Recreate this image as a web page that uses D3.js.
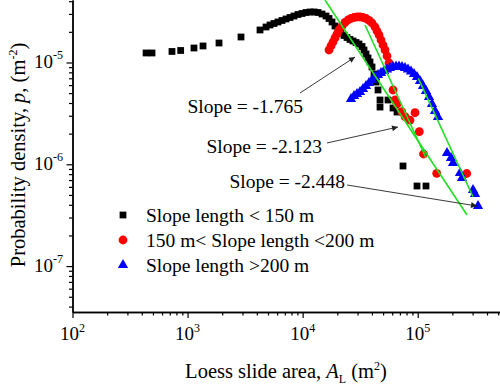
<!DOCTYPE html>
<html>
<head>
<meta charset="utf-8">
<script src="https://cdn.jsdelivr.net/npm/d3@7"></script>
<style>
body{margin:0;background:#fff;}
text{font-family:"Liberation Serif","Times New Roman",serif;fill:#000;}
</style>
</head>
<body>
<script>
// data: [slide area (m^2), probability density (x1e-6 m^-2)]
var blackPts = [[436,12.40],[491,12.40],[732,12.83],[871,13.12],[1137,13.88],[1362,14.53],[1876,15.54],[2913,17.80],[4261,20.86],
	[4805,22.32],[5204,23.36],[5638,24.16],[6107,25.00],[6616,25.86],[7167,26.75],[7765,27.67],[8413,28.62],[9115,29.61],[9872,30.29],
	[10700,30.99],[11590,31.34],[12560,31.34],[13600,30.99],[14730,29.95],[15960,28.62],[16950,27.05],[18000,25.00],[19110,22.83],
	[20300,20.86],[21550,19.49],[22880,18.42],[24300,17.60],[25800,16.82],[27400,16.26],[29090,15.72],[30890,15.19],[32800,14.36],
	[34140,13.27],[35540,12.12],[36990,11.07],[38500,10.11],[40070,9.03],[41710,7.71],[43410,6.43],[45190,5.37],[47030,4.28],
	[47030,3.65],[55200,4.28],[61010,3.57],[66100,3.26],[74490,0.962],[98600,0.612],[118000,0.612]];
var redPts = [[16950,13.27],[17640,14.53],[18360,15.90],[19110,17.41],[19890,19.05],[20700,20.86],[21980,22.83],[23340,24.72],
	[24790,26.15],[26320,27.05],[27950,27.67],[29680,27.99],[31510,27.99],[33460,27.67],[35540,27.05],[37740,25.86],[40070,24.43],
	[42560,22.32],[44290,20.39],[46090,18.63],[47970,16.63],[49930,14.85],[51970,13.27],[54090,11.58],[56290,9.89],
	[61010,5.37],[63490,4.28],[66100,3.91],[72580,3.29],[77520,2.94],[85700,2.72],[94720,3.21],[103200,2.09],[112300,1.262],
	[146200,0.816],[266600,0.812]];
var bluePts = [[26320,4.38],[27950,4.69],[29680,4.90],[31510,5.13],[33460,5.49],[35540,5.88],[37740,6.29],[40070,6.73],[42560,7.20],
	[45190,7.54],[47970,7.89],[50940,8.25],[54090,8.54],[57440,8.83],[61010,9.03],[64780,9.14],[68790,9.14],[73030,9.03],[77520,8.83],
	[82330,8.54],[87420,8.16],[92830,7.71],[98600,7.20],[104700,6.58],[111200,5.88],[118000,5.25],[125300,4.58],[133100,3.91],
	[141300,3.34],[150100,2.91],[179700,1.291],[194700,1.153],[202600,1.030],[233100,0.821],[242600,0.733],[302300,0.559],
	[314700,0.511],[334200,0.389]];

// fitted power-law lines, end points
var fitLines = [[[15630,41.1],[268200,0.318]], [[34830,23.36],[118060,1.153]], [[101200,6.99],[302300,0.480]]];
var slopeLabels = ["Slope = -1.765","Slope = -2.123","Slope = -2.448"];
var labelAt = [[10070,3.19],[14730,1.291],[23340,0.585]];
var arrowFrom = [[9487,5.02],[16280,1.619],[24300,0.626]];
var arrowTo = [[28510,11.32],[67430,2.325],[327600,0.389]];

var legendLabels = ["Slope length < 150 m","150 m< Slope length <200 m","Slope length >200 m"];
var xExponents = [2,3,4,5];
var yExponents = [-7,-6,-5];

var W = 500, H = 389;
var plot = {left:72.5, right:500, top:0, bottom:312};

var svg = d3.select("body").append("svg").attr("width",W).attr("height",H);
svg.append("rect").attr("width",W).attr("height",H).attr("fill","#fff");

var x = d3.scaleLog().domain([100, 518800]).range([plot.left, plot.right]);
var y = d3.scaleLog().domain([3.54e-8, 4.11e-5]).range([plot.bottom, plot.top]);
var px = function(d){ return x(d[0]); };
var py = function(d){ return y(d[1]*1e-6); };

// axes
var xMajor = xExponents.map(function(e){ return Math.pow(10,e); });
var yMajor = yExponents.map(function(e){ return Math.pow(10,e); });
var isMajor = function(v){ return Math.abs(Math.log10(v) - Math.round(Math.log10(v))) < 1e-6; };
var xMinor = x.ticks().filter(function(v){ return !isMajor(v); });
var yMinor = y.ticks().filter(function(v){ return !isMajor(v); });

function styleAxis(g){
	g.select(".domain").attr("stroke","#000").attr("stroke-width",1.4);
	g.selectAll(".tick line").attr("stroke","#000").attr("stroke-width",1.2);
}
svg.append("g").attr("transform","translate(0,"+plot.bottom+")")
	.call(d3.axisBottom(x).tickValues(xMinor).tickSize(3.5).tickSizeOuter(0).tickFormat(""))
	.call(styleAxis);
svg.append("g").attr("transform","translate(0,"+plot.bottom+")")
	.call(d3.axisBottom(x).tickValues(xMajor).tickSize(6).tickSizeOuter(0).tickFormat(""))
	.call(styleAxis);
svg.append("g").attr("transform","translate("+plot.left+",0)")
	.call(d3.axisLeft(y).tickValues(yMinor).tickSize(3.5).tickSizeOuter(0).tickFormat(""))
	.call(styleAxis);
svg.append("g").attr("transform","translate("+plot.left+",0)")
	.call(d3.axisLeft(y).tickValues(yMajor).tickSize(6).tickSizeOuter(0).tickFormat(""))
	.call(styleAxis);

// tick labels with superscripts
var xl = svg.append("g").selectAll("text").data(xExponents).enter().append("text")
	.attr("x",function(e){ return x(Math.pow(10,e)); })
	.attr("y",340)
	.attr("text-anchor","middle")
	.style("font-size","19px");
xl.append("tspan").text("10");
xl.append("tspan").attr("dy",-8).style("font-size","12px").text(function(e){ return e; });

var yl = svg.append("g").selectAll("text").data(yExponents).enter().append("text")
	.attr("x",63)
	.attr("y",function(e){ return y(Math.pow(10,e)) + 6; })
	.attr("text-anchor","end")
	.style("font-size","19px");
yl.append("tspan").text("10");
yl.append("tspan").attr("dy",-9).style("font-size","12px").text(function(e){ return e; });

// axis titles
var xt = svg.append("text").attr("x",286).attr("y",378).attr("text-anchor","middle").style("font-size","20.5px");
xt.append("tspan").text("Loess slide area, ");
xt.append("tspan").style("font-style","italic").text("A");
xt.append("tspan").attr("dy",5).style("font-size","12px").text("L");
xt.append("tspan").attr("dy",-5).text(" (m");
xt.append("tspan").attr("dy",-8).style("font-size","12px").text("2");
xt.append("tspan").attr("dy",8).text(")");

var yt = svg.append("text").attr("transform","translate(25,155) rotate(-90)").attr("text-anchor","middle").style("font-size","20.5px");
yt.append("tspan").text("Probability density, ");
yt.append("tspan").style("font-style","italic").text("p");
yt.append("tspan").text(", (m");
yt.append("tspan").attr("dy",-8).style("font-size","12px").text("-2");
yt.append("tspan").attr("dy",8).text(")");

// points
var sq = d3.symbol().type(d3.symbolSquare).size(46);
var tri = d3.symbol().type(d3.symbolTriangle).size(46);
svg.append("g").selectAll("path").data(blackPts).enter().append("path")
	.attr("d",sq).attr("fill","#000")
	.attr("transform",function(d){ return "translate("+px(d)+","+py(d)+")"; });
svg.append("g").selectAll("circle").data(redPts).enter().append("circle")
	.attr("cx",px).attr("cy",py).attr("r",4.4).attr("fill","#ff0000");
svg.append("g").selectAll("path").data(bluePts).enter().append("path")
	.attr("d",tri).attr("fill","#0000ff")
	.attr("transform",function(d){ return "translate("+px(d)+","+py(d)+")"; });

// fitted lines
svg.append("g").selectAll("line").data(fitLines).enter().append("line")
	.attr("x1",function(d){ return px(d[0]); }).attr("y1",function(d){ return py(d[0]); })
	.attr("x2",function(d){ return px(d[1]); }).attr("y2",function(d){ return py(d[1]); })
	.attr("stroke","#22e022").attr("stroke-width",1.6);

// slope annotations
svg.append("defs").append("marker").attr("id","arr")
	.attr("viewBox","0 0 10 10").attr("refX",10).attr("refY",5)
	.attr("markerUnits","userSpaceOnUse").attr("markerWidth",9).attr("markerHeight",6)
	.attr("orient","auto")
	.append("path").attr("d","M0,0L10,5L0,10z").attr("fill","#222");
svg.append("g").selectAll("line").data(arrowFrom).enter().append("line")
	.attr("x1",px).attr("y1",py)
	.attr("x2",function(d,i){ return px(arrowTo[i]); }).attr("y2",function(d,i){ return py(arrowTo[i]); })
	.attr("stroke","#222").attr("stroke-width",0.9).attr("marker-end","url(#arr)");
svg.append("g").selectAll("text").data(slopeLabels).enter().append("text")
	.attr("x",function(d,i){ return px(labelAt[i]); })
	.attr("y",function(d,i){ return py(labelAt[i]); })
	.attr("text-anchor","end").style("font-size","19.5px")
	.text(function(d){ return d; });

// legend
var legY = [215, 240, 265];
var leg = svg.append("g").selectAll("g").data(legendLabels).enter().append("g")
	.attr("transform",function(d,i){ return "translate(123,"+legY[i]+")"; });
leg.filter(function(d,i){ return i===0; }).append("path").attr("d",sq).attr("fill","#000");
leg.filter(function(d,i){ return i===1; }).append("circle").attr("r",4.4).attr("fill","#ff0000");
leg.filter(function(d,i){ return i===2; }).append("path").attr("d",tri).attr("fill","#0000ff");
leg.append("text").attr("x",23).attr("y",6.5).style("font-size","19.5px").text(function(d){ return d; });
</script>
</body>
</html>
